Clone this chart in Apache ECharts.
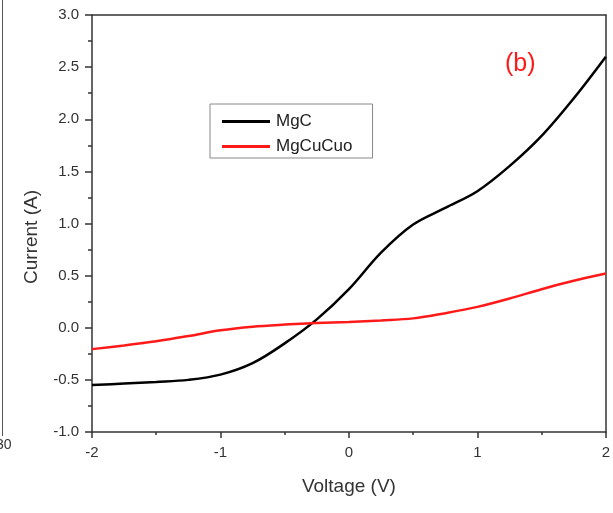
<!DOCTYPE html>
<html>
<head>
<meta charset="utf-8">
<script src="https://cdn.jsdelivr.net/npm/echarts@6/dist/echarts.min.js"></script>
<style>html,body{margin:0;padding:0;background:#fff;}#c{width:613px;height:513px;}</style>
</head>
<body>
<div id="c"></div>
<script>
const voltage = [-2, -1.75, -1.5, -1.25, -1, -0.75, -0.5, -0.25, 0, 0.25, 0.5, 0.75, 1, 1.25, 1.5, 1.75, 2];
const mgC = [-0.55, -0.535, -0.52, -0.5, -0.45, -0.34, -0.15, 0.08, 0.37, 0.72, 0.99, 1.15, 1.31, 1.55, 1.84, 2.2, 2.6];
const mgCuCuo = [-0.205, -0.17, -0.13, -0.08, -0.025, 0.01, 0.03, 0.045, 0.055, 0.07, 0.09, 0.14, 0.2, 0.28, 0.37, 0.45, 0.52];
const seriesNames = ['MgC', 'MgCuCuo'];
const panelLabel = '(b)';
const xTitle = 'Voltage (V)';
const yTitle = 'Current (A)';

const chart = echarts.init(document.getElementById('c'), null, {renderer: 'canvas'});
const axisCol = '#333';
const font = 'Liberation Sans, Arial, sans-serif';
chart.setOption({
  backgroundColor: '#fff',
  animation: false,
  grid: {left: 92, right: 3, top: 15, bottom: 81},
  legend: {
    orient: 'vertical', left: 210, top: 104,
    borderColor: '#888', borderWidth: 1, padding: [9, 20, 3, 12],
    icon: 'rect', itemWidth: 48, itemHeight: 3, itemGap: 8,
    textStyle: {fontFamily: font, fontSize: 17, color: '#222', padding: [0, 0, 0, 1]},
    data: seriesNames
  },
  graphic: [
    {type: 'text', left: 505, top: 52, style: {text: panelLabel, fill: '#ff1a1a', font: '25px ' + font}},
    {type: 'text', x: 32, y: 237, rotation: Math.PI / 2,
     style: {text: yTitle, fill: '#333', font: '19px ' + font, align: 'center', verticalAlign: 'middle'}},
    {type: 'line', shape: {x1: 2.5, y1: 0, x2: 2.5, y2: 436}, style: {stroke: '#555', lineWidth: 1}},
    {type: 'text', left: -4, top: 438, style: {text: '30', fill: '#333', font: '14px ' + font}}
  ],
  xAxis: [{
    type: 'value', min: -2, max: 2, interval: 1,
    name: xTitle, nameLocation: 'middle', nameGap: 45,
    nameTextStyle: {fontFamily: font, fontSize: 19, color: '#333'},
    axisLine: {show: true, onZero: false, lineStyle: {color: axisCol, width: 1.5}},
    axisTick: {show: true, length: 6, lineStyle: {color: axisCol, width: 1.5}},
    minorTick: {show: true, splitNumber: 2, length: 3, lineStyle: {color: axisCol, width: 1.5}},
    axisLabel: {fontFamily: font, fontSize: 15, color: '#333', margin: 13},
    splitLine: {show: false}
  }, {
    type: 'value', min: -2, max: 2, position: 'top',
    axisLine: {show: true, onZero: false, lineStyle: {color: axisCol, width: 1.5}},
    axisTick: {show: false}, axisLabel: {show: false}, splitLine: {show: false}
  }],
  yAxis: [{
    type: 'value', min: -1, max: 3, interval: 0.5,
    axisLine: {show: true, onZero: false, lineStyle: {color: axisCol, width: 1.5}},
    axisTick: {show: true, length: 7, lineStyle: {color: axisCol, width: 1.5}},
    minorTick: {show: true, splitNumber: 2, length: 4, lineStyle: {color: axisCol, width: 1.5}},
    axisLabel: {fontFamily: font, fontSize: 15, color: '#333', margin: 13, formatter: v => v.toFixed(1)},
    splitLine: {show: false}
  }, {
    type: 'value', min: -1, max: 3, position: 'right',
    axisLine: {show: true, onZero: false, lineStyle: {color: axisCol, width: 1.5}},
    axisTick: {show: false}, axisLabel: {show: false}, splitLine: {show: false}
  }],
  series: [
    {name: seriesNames[0], type: 'line', smooth: 0.35, symbol: 'none',
     lineStyle: {color: '#000', width: 2.5}, itemStyle: {color: '#000'},
     data: voltage.map((v, i) => [v, mgC[i]])},
    {name: seriesNames[1], type: 'line', smooth: 0.35, symbol: 'none',
     lineStyle: {color: '#ff1a1a', width: 2.5}, itemStyle: {color: '#ff1a1a'},
     data: voltage.map((v, i) => [v, mgCuCuo[i]])}
  ]
});
</script>
</body>
</html>
